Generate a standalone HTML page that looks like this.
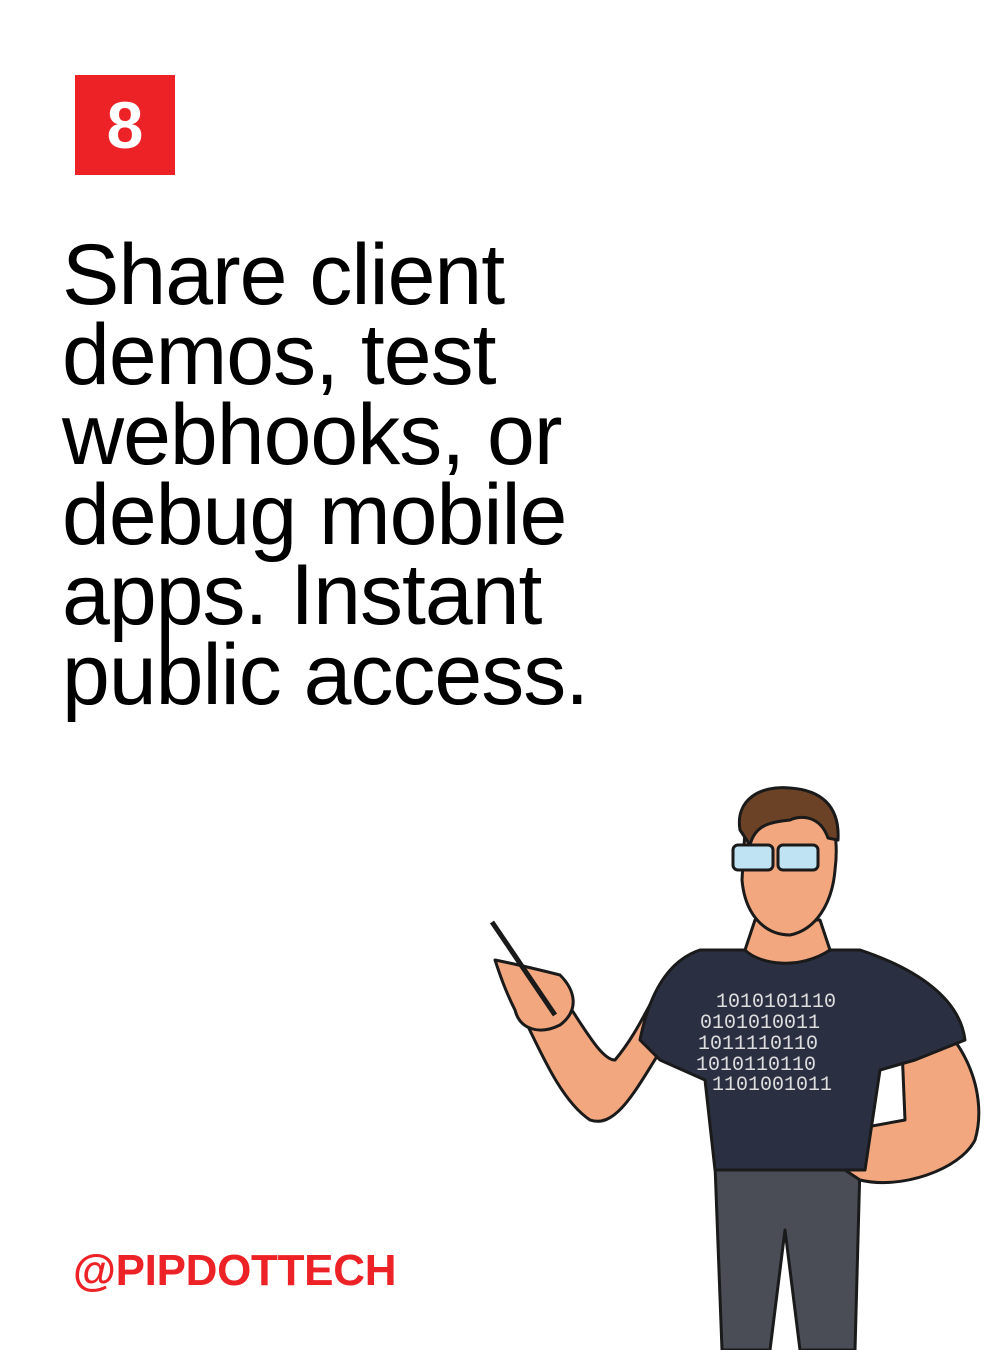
<!DOCTYPE html>
<html><head><meta charset="utf-8"><style>
html,body{margin:0;padding:0;background:#fff}
body{width:1000px;height:1350px;position:relative;overflow:hidden;font-family:"Liberation Sans",sans-serif}
.box{position:absolute;left:75px;top:75px;width:100px;height:100px;background:#ec2227;color:#fff;font-weight:bold;font-size:66px;line-height:100px;text-align:center}
.t{position:absolute;left:62px;top:235px;font-size:86px;line-height:80px;color:#000;letter-spacing:-1px}
.h{position:absolute;left:73px;top:1246px;font-size:44px;font-weight:bold;color:#ec2227;letter-spacing:-0.3px}
svg{position:absolute;left:0;top:0}
</style></head><body>
<div class="box">8</div>
<div class="t">Share client<br>demos, test<br>webhooks, or<br>debug mobile<br>apps. Instant<br>public access.</div>
<div class="h">@PIPDOTTECH</div>
<svg width="1000" height="1350" viewBox="0 0 1000 1350">
<g stroke="#1a1a1a" stroke-width="3" stroke-linejoin="round">
<path d="M715 1165 L860 1165 L855 1350 L800 1350 L785 1230 L770 1350 L722 1350 Z" fill="#4a4d55"/>
<path d="M900 1000 C960 1020 990 1090 975 1140 C960 1170 900 1190 860 1180 L830 1160 L850 1130 L905 1120 Z" fill="#f2a77f"/>
<path d="M680 1020 C640 1080 620 1130 590 1120 C560 1100 540 1050 520 1010 L555 985 C580 1020 600 1060 615 1060 C640 1030 650 1000 665 980 Z" fill="#f2a77f"/>
<path d="M495 960 C520 965 540 970 560 975 C575 990 580 1010 560 1025 C540 1035 520 1030 515 1010 C505 990 500 975 495 960 Z" fill="#f2a77f"/>
<line x1="492" y1="922" x2="555" y2="1015" stroke-width="5"/>
<path d="M700 950 L860 950 C920 970 960 1000 965 1040 L915 1060 L880 1070 L865 1170 L715 1170 L705 1080 L660 1060 L640 1040 C650 990 670 960 700 950 Z" fill="#2b2f42"/>
<path d="M755 920 L820 920 L830 950 C800 970 760 965 745 950 Z" fill="#f2a77f"/>
<path d="M745 830 C745 800 770 790 800 795 C830 800 840 830 835 870 C832 905 815 930 790 935 C765 935 745 915 742 880 Z" fill="#f2a77f"/>
<path d="M740 830 C735 800 760 785 790 788 C820 790 840 805 838 840 L828 838 C820 815 800 815 790 820 C770 822 755 825 750 845 Z" fill="#6b4226"/>
<rect x="733" y="845" width="40" height="25" rx="5" fill="#bfe3f2"/>
<rect x="778" y="845" width="40" height="25" rx="5" fill="#bfe3f2"/>
</g>
<g fill="#ddd" font-family="Liberation Mono,monospace" font-size="20">
<text x="716" y="1007">1010101110</text>
<text x="700" y="1028">0101010011</text>
<text x="698" y="1049">1011110110</text>
<text x="696" y="1070">1010110110</text>
<text x="712" y="1090">1101001011</text>
</g>
</svg>
</body></html>
